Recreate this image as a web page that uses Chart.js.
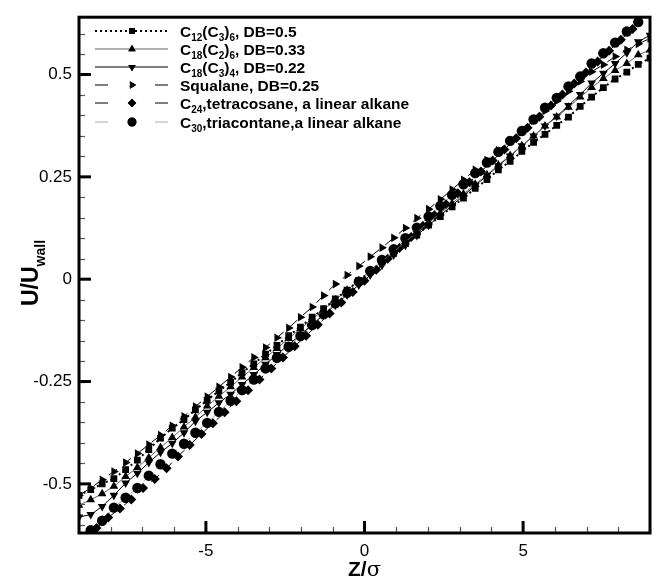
<!DOCTYPE html>
<html>
<head>
<meta charset="utf-8">
<script src="https://cdn.jsdelivr.net/npm/chart.js@4.4.1/dist/chart.umd.min.js"></script>
<style>
  html, body { margin: 0; padding: 0; background: #fff; }
  canvas { display: block; }
</style>
</head>
<body>
<canvas id="velocity_profile" width="656" height="580"></canvas>
<script>
// Z/sigma positions of the sampled bins
const zGrid = [-9.00, -8.63, -8.27, -7.90, -7.53, -7.16, -6.80, -6.43, -6.06, -5.69, -5.33, -4.96, -4.59, -4.22, -3.86, -3.49, -3.12, -2.76, -2.39, -2.02, -1.65, -1.29, -0.92, -0.55, -0.18,
  0.18, 0.55, 0.92, 1.29, 1.65, 2.02, 2.39, 2.76, 3.12, 3.49, 3.86, 4.22, 4.59, 4.96, 5.33, 5.69, 6.06, 6.43, 6.80, 7.16, 7.53, 7.90, 8.27, 8.63, 9.00];
const zDiamond = [-8.82, -8.45, -8.08, -7.71, -7.35, -6.98, -6.61, -6.24, -5.88, -5.51, -5.14, -4.78, -4.41, -4.04, -3.67, -3.31, -2.94, -2.57, -2.20, -1.84, -1.47, -1.10, -0.73, -0.37, 0.00,
  0.37, 0.73, 1.10, 1.47, 1.84, 2.20, 2.57, 2.94, 3.31, 3.67, 4.04, 4.41, 4.78, 5.14, 5.51, 5.88, 6.24, 6.61, 6.98, 7.35, 7.71, 8.08, 8.45, 8.82];

// U/Uwall for each molecule
const c12c3x6 = [-0.528, -0.514, -0.500, -0.487, -0.465, -0.442, -0.416, -0.388, -0.364, -0.343, -0.319, -0.296, -0.273, -0.252, -0.228, -0.207, -0.183, -0.162, -0.138, -0.117, -0.093, -0.072, -0.048, -0.027, -0.003,
  0.018, 0.042, 0.063, 0.087, 0.108, 0.132, 0.153, 0.177, 0.198, 0.222, 0.243, 0.267, 0.288, 0.312, 0.334, 0.354, 0.376, 0.396, 0.422, 0.445, 0.468, 0.489, 0.506, 0.525, 0.540];
const c18c2x6 = [-0.552, -0.539, -0.524, -0.506, -0.482, -0.460, -0.436, -0.411, -0.387, -0.361, -0.337, -0.310, -0.286, -0.263, -0.239, -0.216, -0.192, -0.169, -0.145, -0.121, -0.098, -0.075, -0.051, -0.027, -0.004,
  0.020, 0.043, 0.067, 0.091, 0.114, 0.138, 0.161, 0.185, 0.208, 0.232, 0.255, 0.279, 0.302, 0.326, 0.350, 0.374, 0.396, 0.420, 0.445, 0.468, 0.490, 0.510, 0.527, 0.548, 0.560];
const c18c3x4 = [-0.581, -0.575, -0.555, -0.528, -0.498, -0.474, -0.448, -0.423, -0.401, -0.375, -0.347, -0.325, -0.302, -0.281, -0.257, -0.233, -0.208, -0.184, -0.160, -0.136, -0.111, -0.087, -0.063, -0.038, -0.014,
  0.010, 0.034, 0.059, 0.083, 0.107, 0.132, 0.156, 0.180, 0.204, 0.229, 0.253, 0.277, 0.301, 0.326, 0.350, 0.374, 0.398, 0.424, 0.451, 0.479, 0.503, 0.527, 0.553, 0.580, 0.596];
const squalane = [-0.528, -0.510, -0.490, -0.470, -0.448, -0.426, -0.404, -0.381, -0.358, -0.335, -0.311, -0.287, -0.263, -0.239, -0.215, -0.191, -0.167, -0.143, -0.119, -0.093, -0.068, -0.040, -0.012, 0.010, 0.032,
  0.055, 0.077, 0.101, 0.125, 0.149, 0.171, 0.195, 0.219, 0.243, 0.267, 0.291, 0.315, 0.339, 0.363, 0.387, 0.411, 0.435, 0.459, 0.483, 0.507, 0.524, 0.544, 0.560, 0.575, 0.588];
const tetracosane = [null, -0.608, -0.582, -0.560, -0.538, -0.510, -0.488, -0.462, -0.433, -0.405, -0.378, -0.352, -0.325, -0.298, -0.271, -0.245, -0.218, -0.191, -0.164, -0.138, -0.111, -0.084, -0.057, -0.031, -0.004,
  0.023, 0.050, 0.076, 0.103, 0.130, 0.156, 0.183, 0.210, 0.237, 0.263, 0.290, 0.317, 0.344, 0.370, 0.397, 0.424, 0.451, 0.478, 0.505, 0.532, 0.558, 0.585, 0.611, null];
const triacontane = [null, -0.613, -0.590, -0.558, -0.534, -0.510, -0.480, -0.452, -0.426, -0.402, -0.375, -0.351, -0.324, -0.297, -0.271, -0.245, -0.218, -0.192, -0.165, -0.139, -0.112, -0.086, -0.059, -0.033, -0.006,
  0.020, 0.047, 0.073, 0.100, 0.126, 0.153, 0.179, 0.206, 0.232, 0.259, 0.285, 0.311, 0.338, 0.362, 0.390, 0.419, 0.443, 0.471, 0.495, 0.527, 0.552, 0.578, 0.605, 0.628, null];

// tick labels
const xTicks = [-5, 0, 5];
const yTicks = [-0.5, -0.25, 0, 0.25, 0.5];

// legend texts: [text, subscript?]
const labels = [
  [['C', 0], ['12', 1], ['(C', 0], ['3', 1], [')', 0], ['6', 1], [', DB=0.5', 0]],
  [['C', 0], ['18', 1], ['(C', 0], ['2', 1], [')', 0], ['6', 1], [', DB=0.33', 0]],
  [['C', 0], ['18', 1], ['(C', 0], ['3', 1], [')', 0], ['4', 1], [', DB=0.22', 0]],
  [['Squalane, DB=0.25', 0]],
  [['C', 0], ['24', 1], [',tetracosane, a linear alkane', 0]],
  [['C', 0], ['30', 1], [',triacontane,a linear alkane', 0]],
];

const FONT = '"Liberation Sans", Arial, Helvetica, sans-serif';

function pts(xs, ys) {
  return xs.map((x, i) => ({ x: x, y: ys[i] }));
}

function drawRich(ctx, parts, x, y, size) {
  parts.forEach(([t, sub]) => {
    ctx.font = 'bold ' + (sub ? Math.round(size * 0.62) : size) + 'px ' + FONT;
    ctx.fillText(t, x, sub ? y + size * 0.3 : y);
    x += ctx.measureText(t).width;
  });
  return x;
}

function richWidth(ctx, parts, size) {
  let w = 0;
  parts.forEach(([t, sub]) => {
    ctx.font = 'bold ' + (sub ? Math.round(size * 0.62) : size) + 'px ' + FONT;
    w += ctx.measureText(t).width;
  });
  return w;
}

const seriesStyle = [
  { data: pts(zGrid, c12c3x6), pointStyle: 'rect', pointRadius: 4.8, rotation: 0, borderColor: '#000', borderWidth: 2, borderDash: [2, 3] },
  { data: pts(zGrid, c18c2x6), pointStyle: 'triangle', pointRadius: 5, rotation: 0, borderColor: '#666', borderWidth: 1, borderDash: [] },
  { data: pts(zGrid, c18c3x4), pointStyle: 'triangle', pointRadius: 5, rotation: 180, borderColor: '#000', borderWidth: 1, borderDash: [] },
  { data: pts(zGrid, squalane), pointStyle: 'triangle', pointRadius: 5, rotation: 90, borderColor: '#000', borderWidth: 1, borderDash: [10, 8] },
  { data: pts(zDiamond, tetracosane), pointStyle: 'rectRot', pointRadius: 5, rotation: 0, borderColor: '#000', borderWidth: 1, borderDash: [10, 8] },
  { data: pts(zGrid, triacontane), pointStyle: 'circle', pointRadius: 5.2, rotation: 0, borderColor: '#aaa', borderWidth: 1, borderDash: [10, 8] },
];

const framePlugin = {
  id: 'frame',
  afterDraw(chart) {
    const ctx = chart.ctx;
    const a = chart.chartArea;
    const xs = chart.scales.x, ys = chart.scales.y;
    ctx.save();
    // minor ticks
    ctx.strokeStyle = '#555';
    ctx.lineWidth = 1.2;
    for (let v = -9; v <= 9; v++) {
      const px = Math.round(xs.getPixelForValue(v)) + 0.5;
      ctx.beginPath(); ctx.moveTo(px, a.bottom); ctx.lineTo(px, a.bottom - 6); ctx.stroke();
    }
    for (let k = -12; k <= 12; k++) {
      const py = Math.round(ys.getPixelForValue(k * 0.05)) + 0.5;
      ctx.beginPath(); ctx.moveTo(a.left, py); ctx.lineTo(a.left + 6, py); ctx.stroke();
    }
    // major ticks
    ctx.strokeStyle = '#000';
    ctx.lineWidth = 3;
    xTicks.forEach(v => {
      const px = xs.getPixelForValue(v);
      ctx.beginPath(); ctx.moveTo(px, a.bottom); ctx.lineTo(px, a.bottom - 12); ctx.stroke();
    });
    yTicks.forEach(v => {
      const py = ys.getPixelForValue(v);
      ctx.beginPath(); ctx.moveTo(a.left, py); ctx.lineTo(a.left + 12, py); ctx.stroke();
    });
    // frame
    ctx.lineWidth = 3;
    ctx.strokeRect(a.left, a.top, a.right - a.left, a.bottom - a.top);

    // legend
    const lx0 = 95, lx1 = 168, mx = 132, tx = 180;
    const rowY = [31, 49, 67, 85, 103, 122];
    seriesStyle.forEach((s, i) => {
      const ly = rowY[i];
      ctx.strokeStyle = s.borderColor;
      ctx.lineWidth = s.borderWidth;
      if (i === 0) ctx.setLineDash([2, 3]);
      else if (i >= 3) ctx.setLineDash([13, 47]);
      else ctx.setLineDash([]);
      ctx.beginPath(); ctx.moveTo(lx0, ly); ctx.lineTo(lx1, ly); ctx.stroke();
      ctx.setLineDash([]);
      ctx.fillStyle = '#000';
      Chart.helpers.drawPoint(ctx, { pointStyle: s.pointStyle, rotation: s.rotation, radius: s.pointRadius * 0.85, borderWidth: 0 }, mx, ly);
      ctx.fill();
      ctx.fillStyle = '#000';
      ctx.textBaseline = 'alphabetic';
      ctx.textAlign = 'left';
      drawRich(ctx, labels[i], tx, ly + 5.5, 15.5);
    });

    // axis titles
    ctx.fillStyle = '#000';
    ctx.textAlign = 'left';
    ctx.font = 'bold 21px ' + FONT;
    const zw = ctx.measureText('Z/').width;
    ctx.font = '21px "DejaVu Serif", serif';
    const sw = ctx.measureText('σ').width;
    let x0 = (a.left + a.right) / 2 - (zw + sw) / 2;
    ctx.font = 'bold 21px ' + FONT;
    ctx.fillText('Z/', x0, 576);
    ctx.font = '21px "DejaVu Serif", serif';
    ctx.fillText('σ', x0 + zw, 576);

    const yTitle = [['U/U', 0], ['wall', 1]];
    ctx.translate(38, 273);
    ctx.rotate(-Math.PI / 2);
    const w = richWidth(ctx, yTitle, 23);
    drawRich(ctx, yTitle, -w / 2, 0, 23);
    ctx.restore();
  }
};

const ctx = document.getElementById('velocity_profile');
const chart = new Chart(ctx, {
  type: 'scatter',
  data: {
    datasets: seriesStyle.map(s => ({
      data: s.data,
      showLine: true,
      spanGaps: true,
      borderColor: s.borderColor,
      borderWidth: s.borderWidth,
      borderDash: s.borderDash,
      pointStyle: s.pointStyle,
      rotation: s.rotation,
      pointRadius: s.pointRadius,
      pointBackgroundColor: '#000',
      pointBorderColor: '#000',
      pointBorderWidth: 0,
      tension: 0,
    })),
  },
  options: {
    responsive: false,
    animation: false,
    layout: { padding: { top: 12, right: 6, left: 0, bottom: 0 } },
    scales: {
      x: {
        type: 'linear',
        min: -9,
        max: 9,
        afterBuildTicks: s => { s.ticks = xTicks.map(v => ({ value: v })); },
        afterFit: s => { s.height = 47; },
        grid: { display: false, drawTicks: false },
        border: { display: false },
        ticks: { color: '#000', font: { family: FONT, size: 17 }, padding: 8, maxRotation: 0 },
      },
      y: {
        type: 'linear',
        min: -0.62,
        max: 0.64,
        afterBuildTicks: s => { s.ticks = yTicks.map(v => ({ value: v })); },
        afterFit: s => { s.width = 79; },
        grid: { display: false, drawTicks: false },
        border: { display: false },
        ticks: { color: '#000', font: { family: FONT, size: 17 }, padding: 7, callback: v => String(v) },
      },
    },
    plugins: {
      legend: { display: false },
      tooltip: { enabled: false },
    },
  },
  plugins: [framePlugin],
});
</script>
</body>
</html>
